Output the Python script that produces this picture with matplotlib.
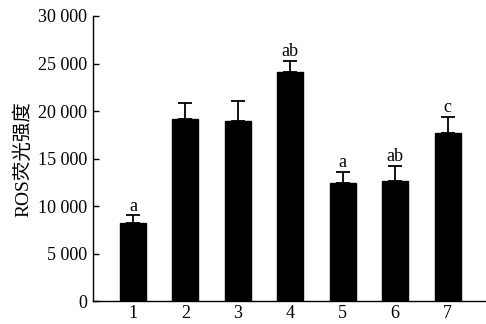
import numpy as np
import matplotlib

matplotlib.use("Agg")

import matplotlib.pyplot as plt

# ----- data -----
groups = ["1", "2", "3", "4", "5", "6", "7"]
ros_mean = [8210, 19160, 18980, 24070, 12390, 12670, 17650]
ros_err = [840, 1710, 2040, 1230, 1220, 1580, 1750]
sig_labels = ["a", "", "", "ab", "a", "ab", "c"]
y_ticks = [0, 5000, 10000, 15000, 20000, 25000, 30000]
y_tick_labels = ["0", "5 000", "10 000", "15 000", "20 000", "25 000", "30 000"]

plt.rcParams["font.family"] = ["Liberation Serif", "Noto Sans CJK SC"]
plt.rcParams["font.size"] = 13

fig = plt.figure(figsize=(4.86, 3.24), dpi=100)
ax = fig.add_axes([0.1914, 0.07, 0.8086, 0.8807])

x = np.arange(1, len(groups) + 1)
ax.bar(x, ros_mean, width=0.5, color="black", edgecolor="black")
ax.errorbar(x, ros_mean, yerr=[np.zeros(len(ros_err)), ros_err],
            fmt="none", ecolor="black", elinewidth=1.3, capsize=5.2,
            capthick=1.3)

# significance letters just above the caps
for xi, m, e, lab in zip(x, ros_mean, ros_err, sig_labels):
    if lab:
        ax.annotate(lab, (xi, m + e), xytext=(0, 0.5), textcoords="offset points",
                    ha="center", va="bottom", fontsize=13)

ax.set_xlim(0.24, 7.73)
ax.set_ylim(0, 30000)
ax.set_xticks(x)
ax.set_xticklabels(groups)
ax.set_yticks(y_ticks)
ax.set_yticklabels(y_tick_labels)
ax.tick_params(axis="y", direction="in", length=4, width=1, pad=4)
ax.tick_params(axis="x", length=0, pad=2.5)
ax.set_ylabel("ROS荧光强度", labelpad=4, fontsize=14)

for side in ["top", "right"]:
    ax.spines[side].set_visible(False)
for side in ["left", "bottom"]:
    ax.spines[side].set_linewidth(1.0)

fig.savefig("out.png", dpi=100)
